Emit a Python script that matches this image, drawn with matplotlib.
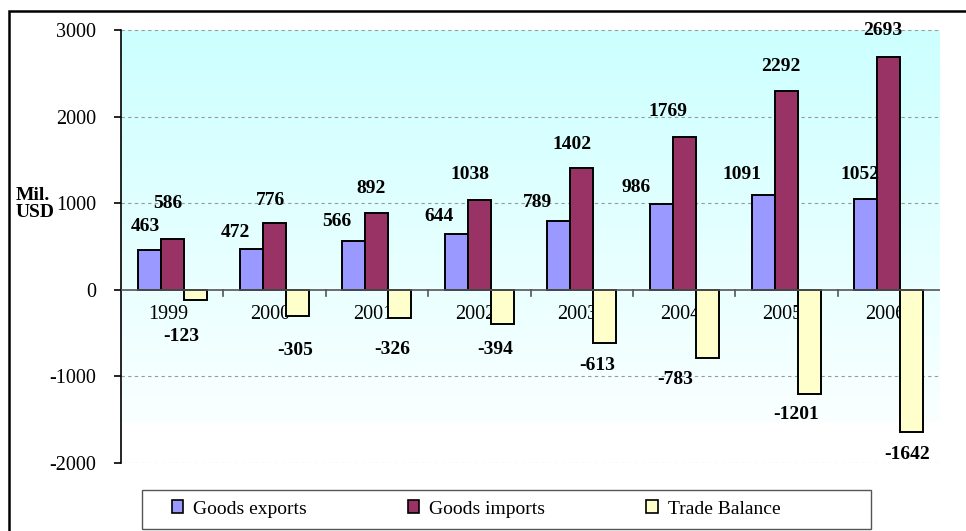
import numpy as np
import matplotlib

matplotlib.use("Agg")
import matplotlib.pyplot as plt
from matplotlib.patches import Rectangle, Patch

plt.rcParams["font.family"] = ["Liberation Serif", "DejaVu Serif"]
plt.rcParams["axes.unicode_minus"] = False

years = ["1999", "2000", "2001", "2002", "2003", "2004", "2005", "2006"]
exports = [463, 472, 566, 644, 789, 986, 1091, 1052]
imports = [586, 776, 892, 1038, 1402, 1769, 2292, 2693]
balance = [-123, -305, -326, -394, -613, -783, -1201, -1642]

series_names = ["Goods exports", "Goods imports", "Trade Balance"]
colors = ["#9999FF", "#993366", "#FFFFCC"]

# hand-placed data label offsets (pixels from bar end), as in the original
exp_off = [(-4, 23), (-16, 16), (-17, 19), (-17, 18), (-21, 19), (-25, 17), (-21, 21), (-6, 24)]
imp_off = [(-4, 36), (-4, 22), (-6, 24), (-9, 25), (-10, 24), (-16, 25), (-6, 25), (-6, 26)]
bal_off = [(-14, -36), (-2, -34), (-8, -31), (-7, -26), (-8, -23), (-32, -22), (-13, -21), (-5, -23)]

W, H = 966, 531
fig = plt.figure(figsize=(W / 100, H / 100), dpi=100)

# outer chart frame
fig.patches.append(Rectangle((9 / W, -0.05), 1.1, 1 - 11 / H + 0.05, transform=fig.transFigure,
                             fill=False, edgecolor="black", linewidth=1.8))

ax = fig.add_axes([121 / W, 1 - 463 / H, (940 - 121) / W, (463 - 30) / H])
ax.set_xlim(-0.5, 7.5)
ax.set_ylim(-2000, 3000)

# gradient plot-area fill
top = np.array([0.80, 1.0, 1.0])
bot = np.array([0.98, 1.0, 1.0])
t = np.linspace(0, 1, 256)[:, None]
grad = top[None, :] * (1 - t) + bot[None, :] * t
ax.imshow(grad[:, None, :], extent=(-0.5, 7.5, -1530, 3000), aspect="auto", zorder=0)

for yv in [-2000, -1000, 1000, 2000, 3000]:
    ax.axhline(yv, color="#999999", lw=0.8, ls=(0, (3, 3)), zorder=1)

x = np.arange(len(years))
bw = 0.225
for vals, off, col, name in zip([exports, imports, balance], [-bw, 0, bw], colors, series_names):
    ax.bar(x + off, vals, width=bw, color=col, edgecolor="black", linewidth=1.4,
           zorder=3, label=name)

lab_font = dict(fontsize=14, fontweight="bold", ha="center", va="center", zorder=5)
for i in range(len(years)):
    for vals, off, offs in [(exports, -bw, exp_off), (imports, 0, imp_off), (balance, bw, bal_off)]:
        ax.annotate(str(vals[i]), xy=(x[i] + off, vals[i]), xytext=offs[i],
                    textcoords="offset pixels", **lab_font)
    ax.annotate(years[i], xy=(x[i], 0), xytext=(-4, -25), textcoords="offset pixels",
                ha="center", va="center", fontsize=14.5, zorder=2)

for s in ["top", "right", "bottom"]:
    ax.spines[s].set_visible(False)
ax.spines["left"].set_linewidth(1.2)
ax.axhline(0, color="#555555", lw=1.2, zorder=4)
ax.set_xticks([])
for b in np.arange(0.5, 7.5, 1.0):
    ax.plot([b, b], [0, -70], color="#555555", lw=1.2, zorder=4)

ax.set_yticks([-2000, -1000, 0, 1000, 2000, 3000])
ax.tick_params(axis="y", direction="out", length=5, width=1.2, labelsize=14.5, pad=13)

fig.text(16 / W, 1 - 204 / H, "Mil.\nUSD", fontsize=14, fontweight="bold",
         ha="left", va="center", linespacing=1.0)

# legend
fig.patches.append(Rectangle((142 / W, 1 - 529 / H), (871 - 142) / W, 39 / H,
                             transform=fig.transFigure, fill=False,
                             edgecolor="#555555", linewidth=1.0))
handles = [Patch(facecolor=c, edgecolor="black", linewidth=1.2) for c in colors]
fig.legend(handles, series_names, loc="center left",
           bbox_to_anchor=(154 / W, 1 - 509 / H), ncol=3, frameon=False,
           fontsize=14, handlelength=0.6, handleheight=0.6, handletextpad=0.5,
           columnspacing=5.2)

fig.savefig("out.png", dpi=100)
